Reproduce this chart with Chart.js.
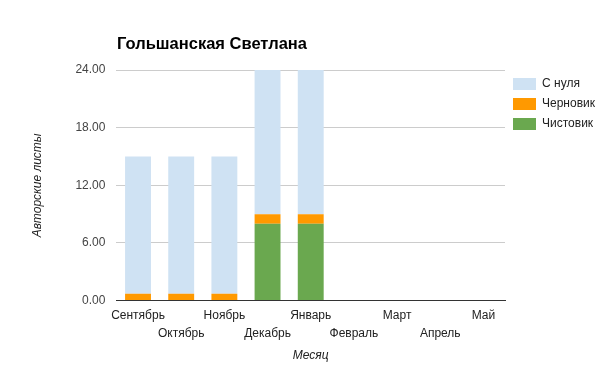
<!DOCTYPE html>
<html>
<head>
<meta charset="utf-8">
<script src="https://cdn.jsdelivr.net/npm/chart.js@4"></script>
<style>
  html, body { margin: 0; padding: 0; background: #fff; }
  #wrap { position: relative; width: 605px; height: 365px; }
  #title { position: absolute; left: 117px; top: 34px; font: bold 16.5px "Liberation Sans", Arial, sans-serif; color: #000; }
</style>
</head>
<body>
<div id="wrap">
  <div id="title">Гольшанская Светлана</div>
  <canvas id="chart" width="605" height="365"></canvas>
</div>
<script>
// months, Sept..May
const months = ["Сентябрь", "Октябрь", "Ноябрь", "Декабрь", "Январь", "Февраль", "Март", "Апрель", "Май"];
const clean = [0, 0, 0, 8, 8, 0, 0, 0, 0];          // Чистовик
const draft = [0.7, 0.7, 0.7, 1, 1, 0, 0, 0, 0];     // Черновик
const fromScratch = [14.3, 14.3, 14.3, 15, 15, 0, 0, 0, 0]; // С нуля
const yTicks = [0, 6, 12, 18, 24];

const font = "'Liberation Sans', Arial, sans-serif";

// stagger labels into two rows, like the original
const labels = months.map((m, i) => i % 2 ? ["", m] : m);

new Chart(document.getElementById("chart"), {
  type: "bar",
  data: {
    labels,
    datasets: [
      { label: "Чистовик", data: clean, backgroundColor: "#6aa84f", borderWidth: 0 },
      { label: "Черновик", data: draft, backgroundColor: "#ff9900", borderWidth: 0 },
      { label: "С нуля", data: fromScratch, backgroundColor: "#cfe2f3", borderWidth: 0 }
    ]
  },
  options: {
    responsive: false,
    animation: false,
    layout: { padding: { top: 70, left: 30, right: 0, bottom: 2 } },
    datasets: { bar: { barPercentage: 0.6, categoryPercentage: 1 } },
    plugins: {
      title: { display: false },
      tooltip: { enabled: false },
      legend: {
        position: "right",
        align: "start",
        reverse: true,
        labels: {
          boxWidth: 23, boxHeight: 12, padding: 8,
          color: "#222", font: { family: font, size: 12 }
        }
      }
    },
    scales: {
      x: {
        stacked: true,
        grid: { display: false, drawTicks: false },
        border: { display: true, color: "#333", width: 1 },
        ticks: {
          autoSkip: false, maxRotation: 0, minRotation: 0,
          color: "#222", padding: 6,
          font: { family: font, size: 12, lineHeight: 1.5 }
        },
        title: {
          display: true, text: "Месяц", color: "#222",
          font: { family: font, size: 12, style: "italic" }, padding: { top: 0, bottom: 0 }
        }
      },
      y: {
        stacked: true,
        min: 0, max: 24,
        afterBuildTicks: s => { s.ticks = yTicks.map(v => ({ value: v })); },
        grid: { color: "#cccccc", drawTicks: false },
        border: { display: false },
        ticks: {
          color: "#444", padding: 11,
          font: { family: font, size: 12 },
          callback: v => Number(v).toFixed(2)
        },
        title: {
          display: true, text: "Авторские листы", color: "#222",
          font: { family: font, size: 12, style: "italic" }, padding: { top: 0, bottom: 20 }
        }
      }
    }
  }
});
</script>
</body>
</html>
